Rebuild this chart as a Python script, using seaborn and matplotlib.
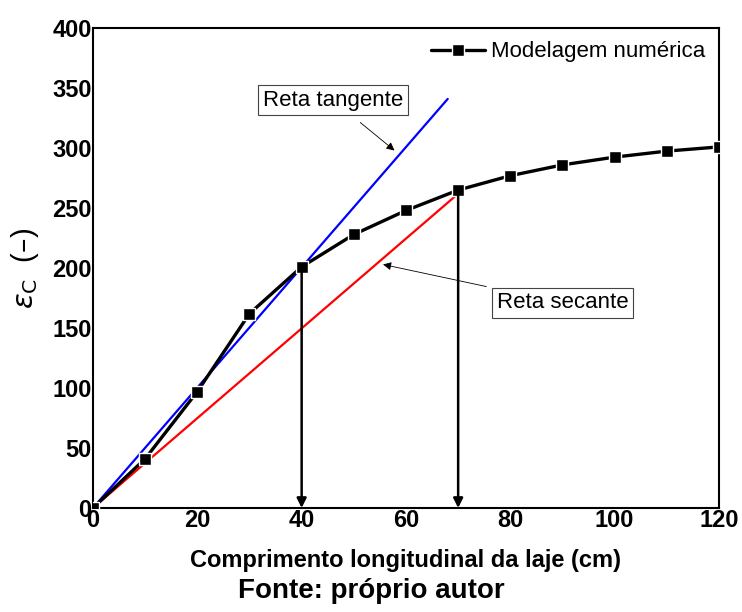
import matplotlib
matplotlib.use("Agg")
import matplotlib.pyplot as plt
import seaborn as sns
import pandas as pd

# numerical model results
comprimento = [0, 10, 20, 30, 40, 50, 60, 70, 80, 90, 100, 110, 120]
deformacao = [0, 41, 97, 162, 201, 228, 248, 265, 277, 286, 292.5, 297.5, 301]

# tangent and secant lines (end points)
tangente_x = [0, 68]
tangente_y = [0, 341]
secante_x = [0, 70]
secante_y = [0, 262]

# vertical arrows at the reference points
setas_x = [40, 70]
setas_y = [201, 265]

df = pd.DataFrame({'x': comprimento, 'y': deformacao})

sns.set_style('white')
plt.rcParams['font.family'] = ['Liberation Sans', 'DejaVu Sans']
plt.rcParams['text.color'] = 'black'
plt.rcParams['axes.labelcolor'] = 'black'
plt.rcParams['xtick.color'] = 'black'
plt.rcParams['ytick.color'] = 'black'

fig, ax = plt.subplots(figsize=(7.42, 6.12), dpi=100)
fig.subplots_adjust(left=0.1253, right=0.969, top=0.954, bottom=0.170)

ax.plot(tangente_x, tangente_y, color='#0000ff', lw=1.6, zorder=2)
ax.plot(secante_x, secante_y, color='#ff0000', lw=1.6, zorder=2)

sns.lineplot(x='x', y='y', data=df, ax=ax, color='black', marker='s',
             markersize=9, markeredgecolor='white', markeredgewidth=1.0,
             lw=2.4, label='Modelagem numérica', zorder=3)

for sx, sy in zip(setas_x, setas_y):
    ax.annotate('', xy=(sx, 0), xytext=(sx, sy),
                arrowprops=dict(arrowstyle='-|>', color='black', lw=1.8,
                                mutation_scale=14, shrinkA=0, shrinkB=0))

ax.annotate('Reta tangente', xy=(57.8, 298), xytext=(46, 340),
            fontsize=16, ha='center', va='center',
            bbox=dict(boxstyle='square,pad=0.2', fc='white', ec='#444444', lw=0.8),
            arrowprops=dict(arrowstyle='-|>', color='black', lw=0.6,
                            mutation_scale=12, shrinkA=8, shrinkB=0))
ax.annotate('Reta secante', xy=(55.6, 203), xytext=(90, 171),
            fontsize=16, ha='center', va='center',
            bbox=dict(boxstyle='square,pad=0.2', fc='white', ec='#444444', lw=0.8),
            arrowprops=dict(arrowstyle='-|>', color='black', lw=0.6,
                            mutation_scale=12, shrinkA=4, shrinkB=0))

ax.set_xlim(0, 120)
ax.set_ylim(0, 400)
ax.set_xticks(range(0, 121, 20))
ax.set_yticks(range(0, 401, 50))
ax.tick_params(length=0, pad=1, labelsize=17)
for lab in ax.get_xticklabels() + ax.get_yticklabels():
    lab.set_fontweight('bold')
for sp in ax.spines.values():
    sp.set_color('black')
    sp.set_linewidth(1.5)

ax.set_xlabel('Comprimento longitudinal da laje (cm)', fontsize=17,
              fontweight='bold', labelpad=12)
ax.set_ylabel(r'$\varepsilon_{\mathrm{C}}$  (–)', fontsize=21, labelpad=8)

leg = ax.legend(loc='upper right', frameon=False, fontsize=16,
                handlelength=2.4, handletextpad=0.3, borderaxespad=0.2)

fig.text(0.5, 0.035, 'Fonte: próprio autor', fontsize=20, fontweight='bold',
         ha='center', va='center')

plt.savefig('out.png', dpi=100)
